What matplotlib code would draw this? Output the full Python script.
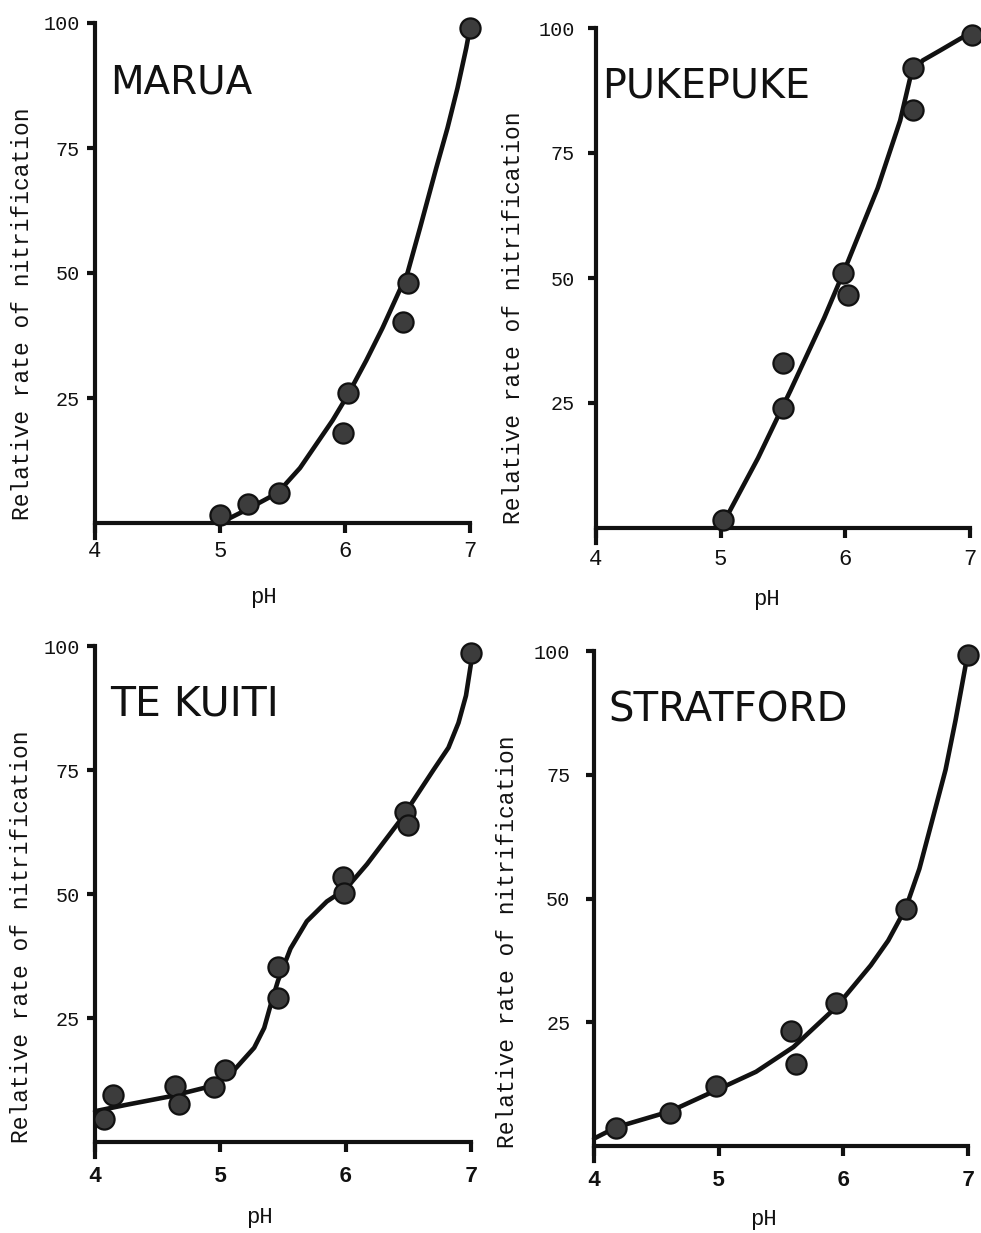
import matplotlib
matplotlib.use("Agg")
import matplotlib.pyplot as plt

W, H = 981, 1233
fig = plt.figure(figsize=(W / 100, H / 100), dpi=100)

# ---------------- data ----------------
titles = ["MARUA", "PUKEPUKE", "TE KUITI", "STRATFORD"]
x_ticks = [4, 5, 6, 7]
x_tick_labels = ["4", "5", "6", "7"]
y_ticks = [25, 50, 75, 100]
y_tick_labels = ["25", "50", "75", "100"]
x_label = "pH"
y_label = "Relative rate of nitrification"

marua_ph = [5.0, 5.22, 5.47, 5.98, 6.02, 6.46, 6.5, 7.0]
marua_rate = [1.6, 3.8, 6.0, 18.0, 26.0, 40.2, 48.0, 99.0]
marua_curve_ph = [5.0, 5.2, 5.46, 5.64, 5.9, 6.02, 6.17, 6.3, 6.4, 6.5, 6.6, 6.73, 6.82, 6.9, 6.97, 7.0]
marua_curve_rate = [0, 2.5, 6, 11, 20.5, 25.5, 32.5, 39, 44.5, 50, 59, 71, 79, 87, 95, 99]

pukepuke_ph = [5.02, 5.5, 5.5, 5.98, 6.02, 6.54, 6.54, 7.02]
pukepuke_rate = [1.6, 33.0, 24.0, 51.0, 46.6, 92.0, 83.6, 98.6]
pukepuke_curve_ph = [5.0, 5.3, 5.56, 5.83, 6.0, 6.26, 6.44, 6.52, 6.62, 6.76, 7.0]
pukepuke_curve_rate = [0, 14, 27.5, 42, 52, 68, 81.5, 90, 93.5, 95.5, 99]

tekuiti_ph = [4.07, 4.14, 4.64, 4.67, 4.95, 5.04, 5.46, 5.46, 5.98, 5.99, 6.47, 6.5, 7.0]
tekuiti_rate = [4.6, 9.5, 11.3, 7.6, 11.1, 14.5, 29.0, 35.3, 53.4, 50.2, 66.5, 64.0, 98.6]
tekuiti_curve_ph = [4.0, 4.25, 4.6, 4.95, 5.11, 5.27, 5.35, 5.4, 5.46, 5.56, 5.69, 5.85,
                    6.0, 6.17, 6.44, 6.7, 6.82, 6.9, 6.96, 7.0]
tekuiti_curve_rate = [6.2, 7.5, 9.2, 11.4, 14.5, 19, 23, 27.5, 32.5, 39, 44.5, 48.5,
                      51, 56, 65, 75, 79.5, 84.5, 90, 96.5]

stratford_ph = [4.18, 4.61, 4.98, 5.58, 5.62, 5.94, 6.5, 7.0]
stratford_rate = [3.6, 6.7, 12.1, 23.2, 16.6, 28.9, 47.9, 99.2]
stratford_curve_ph = [4.0, 4.18, 4.61, 5.0, 5.3, 5.6, 5.94, 6.22, 6.36, 6.5, 6.61, 6.71,
                      6.82, 6.9, 6.98]
stratford_curve_rate = [1.5, 3.8, 7.0, 11.5, 15, 20, 28, 36.5, 41.5, 48, 56, 65.5,
                        76, 86, 97]

points_ph = [marua_ph, pukepuke_ph, tekuiti_ph, stratford_ph]
points_rate = [marua_rate, pukepuke_rate, tekuiti_rate, stratford_rate]
curves_ph = [marua_curve_ph, pukepuke_curve_ph, tekuiti_curve_ph, stratford_curve_ph]
curves_rate = [marua_curve_rate, pukepuke_curve_rate, tekuiti_curve_rate, stratford_curve_rate]

# ---------------- layout (pixel geometry of each panel) ----------------
# x pixel of pH 4, pH 7, y pixel of 100 and of 0
geom = [(95, 470, 23, 523), (596, 970, 28, 528), (95, 471, 646, 1142), (594, 968, 651, 1146)]
title_pos = [(110, 93), (602, 98), (110, 715), (608, 722)]
title_size = [28, 28.5, 29.5, 29]
ylabel_pos = [(23, 314), (513, 318), (22, 937), (508, 942)]
xlabel_pos = [(263, 597), (766, 600), (259, 1217), (763, 1220)]
ytick_pad = [5, 9, 5, 11]
xtick_pad = [6, 8, 10, 10]
xtick_bold = [False, False, True, True]
YMIN = -3.0

ink = "#111111"
mono = "Liberation Mono"

for i in range(4):
    x4, x7, y100, y0 = geom[i]
    ppu = (y0 - y100) / 100.0
    ybot = y0 - YMIN * ppu
    left, right = x4, x7
    ax = fig.add_axes([left / W, 1 - ybot / H, (right - left) / W, (ybot - y100) / H])
    ax.set_xlim(4, 7)
    ax.set_ylim(YMIN, 100)
    ax.patch.set_alpha(0)

    for s in ["top", "right"]:
        ax.spines[s].set_visible(False)
    for s in ["left", "bottom"]:
        ax.spines[s].set_linewidth(3.0)
        ax.spines[s].set_color(ink)
        ax.spines[s].set_capstyle("projecting")
    ax.spines["bottom"].set_position(("data", 0))

    ax.set_xticks(x_ticks)
    ax.set_xticklabels(x_tick_labels, fontfamily=mono, fontsize=16,
                       fontweight="bold" if xtick_bold[i] else "normal", color=ink)
    ax.set_yticks(y_ticks)
    ax.set_yticklabels(y_tick_labels, fontfamily=mono, fontsize=14.5, color=ink)
    ax.tick_params(axis="x", direction="out", length=7, width=3, color=ink, pad=xtick_pad[i])
    ax.tick_params(axis="y", direction="out", length=6, width=3, color=ink, pad=ytick_pad[i])

    ax.plot(curves_ph[i], curves_rate[i], color=ink, lw=3.3, solid_joinstyle="round",
            solid_capstyle="round", zorder=3, clip_on=False)
    ax.plot(points_ph[i], points_rate[i], linestyle="none", marker="o", markersize=14.5,
            markerfacecolor="#3c3c3c", markeredgecolor=ink, markeredgewidth=1.6,
            zorder=4, clip_on=False)

    # axes-fraction helper
    def to_ax(px, py):
        return (px - left) / (right - left), (ybot - py) / (ybot - y100)

    tx, ty = to_ax(*title_pos[i])
    ax.text(tx, ty, titles[i], transform=ax.transAxes, fontsize=title_size[i],
            fontfamily="DejaVu Sans", color=ink, ha="left", va="baseline")

    ax.set_ylabel(y_label, fontfamily=mono, fontsize=16.5, color=ink)
    ax.yaxis.set_label_coords(*to_ax(*ylabel_pos[i]))
    ax.set_xlabel(x_label, fontfamily=mono, fontsize=16, color=ink)
    ax.xaxis.set_label_coords(*to_ax(*xlabel_pos[i]))
    ax.xaxis.label.set_verticalalignment("center")
    ax.yaxis.label.set_verticalalignment("center")

fig.savefig("out.png", dpi=100, facecolor="white")
